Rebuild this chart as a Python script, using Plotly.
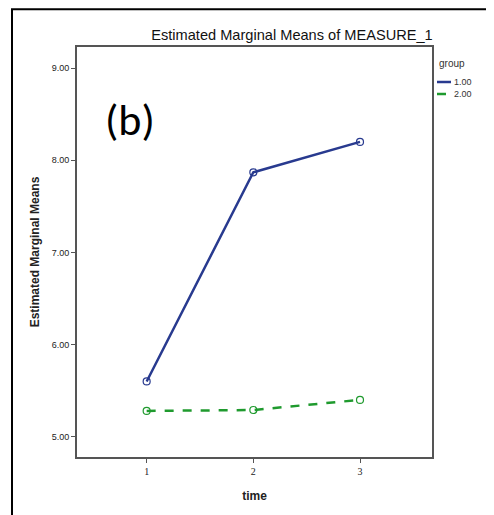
import plotly.graph_objects as go

time_labels = ["1", "2", "3"]
time_vals = [1, 2, 3]
group1 = [5.60, 7.87, 8.20]
group2 = [5.28, 5.29, 5.40]
y_ticks = [5, 6, 7, 8, 9]
y_tick_text = ["5.00", "6.00", "7.00", "8.00", "9.00"]
groups = ["1.00", "2.00"]

c1 = "#283a8f"
c2 = "#1f9a2e"
narrow = "Liberation Sans Narrow, Arial Narrow, Liberation Sans, Arial"

W, H = 486, 507
L, R, T, B = 69, 62, 39, 58
PW, PH = W - L - R, H - T - B  # 355 x 410

def px(xs):  # screen x -> paper x (page has 8px body margin)
    return (xs - 8 - L) / PW

def py(ys):  # screen y -> paper y
    return (H - B - (ys - 8)) / PH

fig = go.Figure()
fig.add_trace(go.Scatter(x=time_vals, y=group1, mode="lines+markers", name=groups[0],
                         line=dict(color=c1, width=2.5),
                         marker=dict(symbol="circle-open", size=7, color=c1, line=dict(width=1.2))))
fig.add_trace(go.Scatter(x=time_vals, y=group2, mode="lines+markers", name=groups[1],
                         line=dict(color=c2, width=2.5, dash="dash"),
                         marker=dict(symbol="circle-open", size=7, color=c2, line=dict(width=1.2))))

axis_common = dict(showline=True, linecolor="#555555", linewidth=2, mirror=True,
                   showgrid=False, zeroline=False, ticks="outside", ticklen=4,
                   tickcolor="#555555", tickwidth=1)

fig.update_layout(
    width=W, height=H,
    margin=dict(l=L, r=R, t=T, b=B),
    paper_bgcolor="white", plot_bgcolor="white",
    showlegend=False,
    font=dict(family=narrow, color="#222222"),
    title=dict(text="Estimated Marginal Means of MEASURE_1", x=(292 - 8) / W, xanchor="center",
               y=1 - (35 - 8) / H, yanchor="middle",
               font=dict(size=14.6, family=narrow, color="#111111")),
    xaxis=dict(range=[0.347, 3.675], tickmode="array", tickvals=time_vals, ticktext=time_labels,
               tickfont=dict(size=10, family="Liberation Serif, Times New Roman"),
               title=dict(text="<b>time</b>", font=dict(size=12, family="Liberation Sans, Arial"), standoff=16),
               **axis_common),
    yaxis=dict(range=[4.78, 9.23], tickmode="array", tickvals=y_ticks, ticktext=y_tick_text,
               tickfont=dict(size=9, family=narrow),
               title=dict(text="<b>Estimated Marginal Means</b>", font=dict(size=12, family="Liberation Sans, Arial"), standoff=9),
               **axis_common),
)

# outer frame
fig.add_shape(type="rect", xref="paper", yref="paper", x0=px(12), x1=1.3, y0=-0.3, y1=py(9.2),
              line=dict(color="black", width=2), fillcolor="rgba(0,0,0,0)", layer="below")

# panel label
fig.add_annotation(text="(b)", xref="paper", yref="paper", x=px(130), y=py(120),
                   showarrow=False, font=dict(size=44, family="Carlito, Calibri, Liberation Sans", color="black"),
                   xanchor="center", yanchor="middle")

# legend (manual)
lx = px(437)
fig.add_annotation(text="group", xref="paper", yref="paper", x=lx, y=py(63), showarrow=False,
                   xanchor="left", yanchor="middle", font=dict(size=10, family=narrow, color="#333333"))
for i, (g, c, d) in enumerate(zip(groups, [c1, c2], ["solid", "dash"])):
    yy = py(82 + i * 12)
    fig.add_shape(type="line", xref="paper", yref="paper", x0=lx, x1=lx + 14 / PW, y0=yy, y1=yy,
                  line=dict(color=c, width=2.5, dash=d))
    fig.add_annotation(text=g, xref="paper", yref="paper", x=lx + 15 / PW, y=yy, showarrow=False,
                       xanchor="left", yanchor="middle", font=dict(size=9, family=narrow, color="#333333"))

fig.write_html("out.html")
